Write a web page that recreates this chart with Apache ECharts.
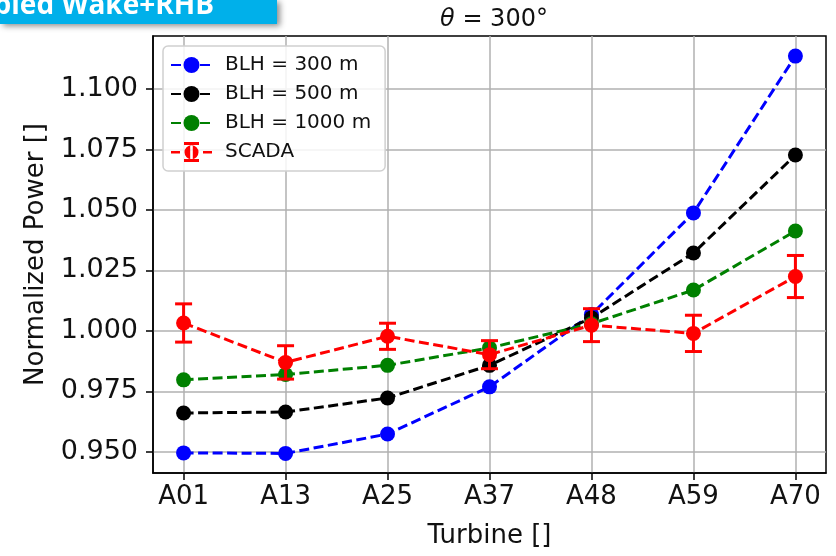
<!DOCTYPE html>
<html>
<head>
<meta charset="utf-8">
<script src="https://cdn.jsdelivr.net/npm/echarts@6/dist/echarts.min.js"></script>
<style>
html,body{margin:0;padding:0;background:#fff;}
#c{width:836px;height:556px;}
</style>
</head>
<body>
<div id="c"></div>
<script>
const turbines = ['A01', 'A13', 'A25', 'A37', 'A48', 'A59', 'A70'];
const blh300 = [0.9496, 0.9494, 0.9574, 0.9769, 1.0068, 1.0488, 1.1136];
const blh500 = [0.9661, 0.9665, 0.9723, 0.9858, 1.0054, 1.0322, 1.0727];
const blh1000 = [0.9798, 0.9820, 0.9858, 0.9930, 1.0030, 1.0169, 1.0413];
const scada = [1.0033, 0.9870, 0.9978, 0.9902, 1.0024, 0.9990, 1.0225];
const scadaErr = [0.0079, 0.0069, 0.0054, 0.0058, 0.0068, 0.0075, 0.0087];
const yTicks = [0.950, 0.975, 1.000, 1.025, 1.050, 1.075, 1.100];
const seriesNames = ['BLH = 300 m', 'BLH = 500 m', 'BLH = 1000 m', 'SCADA'];
const titleText = ' = 300°';
const bannerText = 'Coupled Wake+RHB';

const idx = turbines.map((t, i) => i);
const pts = arr => arr.map((v, i) => [i, v]);
const FONT = 'DejaVu Sans';
const dash = [10, 4.5];

function lineSeries(name, data, color, z) {
  return {
    name: name, type: 'line', data: pts(data), z: z,
    symbol: 'circle', symbolSize: 15,
    itemStyle: {color: color},
    lineStyle: {color: color, width: 3, type: dash},
    emphasis: {disabled: true},
    animation: false
  };
}

const chart = echarts.init(document.getElementById('c'), null, {renderer: 'canvas'});
const scadaIcon = 'path://M0,9H9V11.5H0Z M32,9H41V11.5H32Z M13,0H28V3H13Z M13,17H28V20H13Z M19.2,0H21.8V20H19.2Z M13.5,10.2A7,7 0 1,0 27.5,10.2A7,7 0 1,0 13.5,10.2Z';

chart.setOption({
  animation: false,
  backgroundColor: '#ffffff',
  grid: {left: 153, right: 10, top: 36, bottom: 83, show: true, borderColor: '#000', borderWidth: 1.5, backgroundColor: 'transparent'},
  title: {
    text: '{i|θ}{n|' + titleText + '}',
    left: 489, top: 3, textAlign: 'center',
    textStyle: {fontFamily: FONT, fontSize: 24, fontWeight: 'normal', color: '#111',
      rich: {
        i: {fontFamily: FONT, fontSize: 24, fontStyle: 'italic', color: '#111'},
        n: {fontFamily: FONT, fontSize: 24, color: '#111'}
      }}
  },
  legend: {
    orient: 'vertical', left: 163, top: 46,
    padding: [9, 14, 9, 7],
    itemWidth: 41, itemHeight: 20, itemGap: 9,
    backgroundColor: 'rgba(255,255,255,0.85)',
    borderColor: '#d0d0d0', borderWidth: 1.5, borderRadius: 5,
    textStyle: {fontFamily: FONT, fontSize: 20, color: '#111', padding: [0, 0, 0, 8]},
    data: [
      {name: seriesNames[0]},
      {name: seriesNames[1]},
      {name: seriesNames[2]},
      {name: seriesNames[3], icon: scadaIcon}
    ],
    selectedMode: false
  },
  xAxis: {
    type: 'value', min: -0.3, max: 6.3,
    name: 'Turbine []', nameLocation: 'middle', nameGap: 50,
    nameTextStyle: {fontFamily: FONT, fontSize: 26, color: '#111'},
    axisLine: {show: true, onZero: false, lineStyle: {color: '#000', width: 1.5}},
    axisTick: {show: true, customValues: idx, length: 7, lineStyle: {color: '#000', width: 1.5}},
    axisLabel: {customValues: idx, margin: 11, fontFamily: FONT, fontSize: 26, color: '#111',
      formatter: v => turbines[Math.round(v)]},
    splitLine: {show: true, lineStyle: {color: '#b0b0b0', width: 1.5}}
  },
  yAxis: {
    type: 'value', min: 0.9413, max: 1.1219,
    name: 'Normalized Power []', nameLocation: 'middle', nameGap: 104,
    nameTextStyle: {fontFamily: FONT, fontSize: 26, color: '#111'},
    axisLine: {show: true, onZero: false, lineStyle: {color: '#000', width: 1.5}},
    axisTick: {show: true, customValues: yTicks, length: 7, lineStyle: {color: '#000', width: 1.5}},
    axisLabel: {customValues: yTicks, margin: 15, fontFamily: FONT, fontSize: 27, color: '#111',
      formatter: v => v.toFixed(3)},
    splitLine: {show: true, lineStyle: {color: '#b0b0b0', width: 1.5}}
  },
  graphic: [
    {type: 'rect', left: 0, top: 0, z: 100,
      shape: {x: 0, y: 0, width: 277, height: 24},
      style: {fill: '#00b0ea', shadowBlur: 6, shadowColor: 'rgba(0,0,0,0.45)', shadowOffsetX: 3, shadowOffsetY: 2}},
    {type: 'text', x: 214, y: 20, z: 101,
      style: {text: bannerText, fill: '#ffffff', font: 'bold 28px "Open Sans"', textAlign: 'right', textVerticalAlign: 'bottom'}}
  ],
  series: [
    lineSeries(seriesNames[0], blh300, '#0000ff', 2),
    lineSeries(seriesNames[1], blh500, '#000000', 3),
    lineSeries(seriesNames[2], blh1000, '#008000', 4),
    {
      name: 'SCADA_err', type: 'custom', z: 5,
      data: scada.map((v, i) => [i, v, scadaErr[i]]),
      renderItem: function (params, api) {
        const x = api.value(0), y = api.value(1), e = api.value(2);
        const top = api.coord([x, y + e]);
        const bot = api.coord([x, y - e]);
        const hw = 8.5;
        const st = {stroke: '#ff0000', lineWidth: 3};
        return {type: 'group', children: [
          {type: 'line', shape: {x1: top[0], y1: top[1], x2: bot[0], y2: bot[1]}, style: st},
          {type: 'line', shape: {x1: top[0] - hw, y1: top[1], x2: top[0] + hw, y2: top[1]}, style: st},
          {type: 'line', shape: {x1: bot[0] - hw, y1: bot[1], x2: bot[0] + hw, y2: bot[1]}, style: st}
        ]};
      },
      animation: false, silent: true
    },
    lineSeries(seriesNames[3], scada, '#ff0000', 6)
  ]
});
</script>
</body>
</html>
